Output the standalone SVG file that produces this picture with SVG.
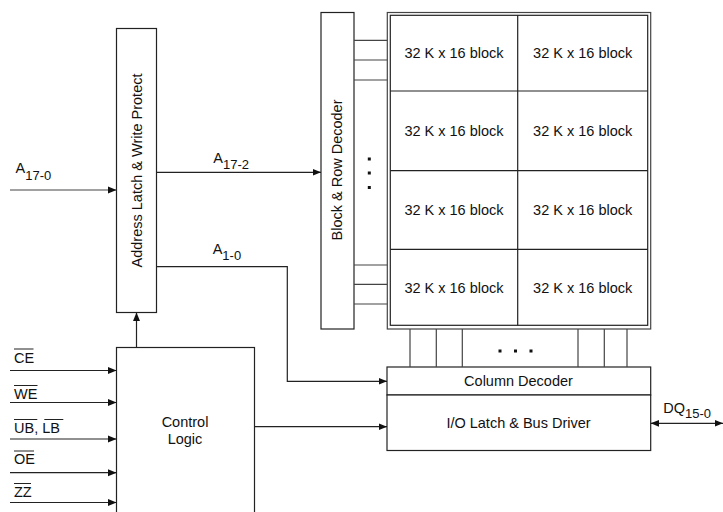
<svg xmlns="http://www.w3.org/2000/svg" width="723" height="512" viewBox="0 0 723 512">
<style>
.box{fill:#fff;stroke:#222;stroke-width:1.2}
.ln{fill:none;stroke:#222;stroke-width:1.2}
.gl{fill:none;stroke:#444;stroke-width:1.2}
.t{font-family:"Liberation Sans",Arial,sans-serif;font-size:14.5px;fill:#111}
.s{font-family:"Liberation Sans",Arial,sans-serif;font-size:13px;fill:#111}
.m{text-anchor:middle}
.dot{fill:#111}
</style>
<defs>
<marker id="ar" markerUnits="userSpaceOnUse" markerWidth="9" markerHeight="8" refX="8.5" refY="4" orient="auto-start-reverse">
<path d="M0,0.5 L8.5,4 L0,7.5 z" fill="#111"/>
</marker>
</defs>
<rect width="723" height="512" fill="#fff"/>

<g id="address-latch">
<rect class="box" x="116.5" y="28.5" width="40" height="284"/>
<text class="t m" transform="translate(142,170.5) rotate(-90)">Address Latch &amp; Write Protect</text>
</g>

<g id="block-row-decoder">
<rect class="box" x="321" y="12.5" width="33" height="316.5"/>
<text class="t m" transform="translate(342,170) rotate(-90)">Block &amp; Row Decoder</text>
<rect class="dot" x="367.8" y="157.5" width="3" height="3"/>
<rect class="dot" x="367.8" y="171.5" width="3" height="3"/>
<rect class="dot" x="367.8" y="186" width="3" height="3"/>
</g>

<g id="memory-array">
<rect fill="#fff" stroke="#444" stroke-width="1.2" x="387.3" y="12.5" width="263.4" height="316.5"/>
<rect fill="none" stroke="#222" stroke-width="1.2" x="390.3" y="15.3" width="257.4" height="310"/>
<path class="ln" d="M517.7,15.3 V325.3 M390.3,91 H647.7 M390.3,170.7 H647.7 M390.3,249.3 H647.7"/>
<text class="t m" x="454" y="58.3">32 K x 16 block</text>
<text class="t m" x="582.7" y="58.3">32 K x 16 block</text>
<text class="t m" x="454" y="136">32 K x 16 block</text>
<text class="t m" x="582.7" y="136">32 K x 16 block</text>
<text class="t m" x="454" y="215">32 K x 16 block</text>
<text class="t m" x="582.7" y="215">32 K x 16 block</text>
<text class="t m" x="454" y="292.5">32 K x 16 block</text>
<text class="t m" x="582.7" y="292.5">32 K x 16 block</text>
</g>

<g id="column-decoder">
<rect class="box" x="387" y="367" width="263.7" height="28"/>
<text class="t m" x="518.5" y="385.5">Column Decoder</text>
</g>

<g id="io-latch">
<rect class="box" x="387" y="395" width="263.7" height="55.5"/>
<text class="t m" x="518.5" y="427.7">I/O Latch &amp; Bus Driver</text>
</g>

<g id="control-logic">
<rect class="box" x="116.5" y="347.5" width="138" height="175"/>
<text class="t m" x="185" y="427.3">Control</text>
<text class="t m" x="185" y="443.5">Logic</text>
</g>

<g id="connectors">
<!-- A17-0 input -->
<line class="gl" x1="10" y1="190" x2="116.5" y2="190" marker-end="url(#ar)"/>
<!-- A17-2 -->
<line class="ln" x1="156.5" y1="172.3" x2="321" y2="172.3" marker-end="url(#ar)"/>
<!-- A1-0 -->
<path class="ln" d="M156.5,266.7 H287.3 V381.3 H387" marker-end="url(#ar)"/>
<!-- decoder to array rows -->
<path class="gl" d="M354,40.3 H387.3 M354,60 H387.3 M354,80 H387.3 M354,265 H387.3 M354,284.3 H387.3 M354,304 H387.3"/>
<!-- array to column decoder -->
<path class="gl" d="M410,329 V367 M436.3,329 V367 M462.3,329 V367 M578,329 V367 M604.3,329 V367 M627,329 V367"/>
<rect class="dot" x="498.5" y="349.5" width="3" height="3"/>
<rect class="dot" x="514" y="349.5" width="3" height="3"/>
<rect class="dot" x="529.5" y="349.5" width="3" height="3"/>
<!-- control logic up to address latch -->
<line class="ln" x1="136.5" y1="347.5" x2="136.5" y2="312.5" marker-end="url(#ar)"/>
<!-- control logic to I/O -->
<line class="ln" x1="254.5" y1="426.7" x2="387" y2="426.7" marker-end="url(#ar)"/>
<!-- control inputs -->
<line class="ln" x1="10" y1="370.5" x2="116.5" y2="370.5" marker-end="url(#ar)"/>
<line class="ln" x1="10" y1="402.5" x2="116.5" y2="402.5" marker-end="url(#ar)"/>
<line class="ln" x1="10" y1="439" x2="116.5" y2="439" marker-end="url(#ar)"/>
<line class="ln" x1="10" y1="472.7" x2="116.5" y2="472.7" marker-end="url(#ar)"/>
<line class="ln" x1="10" y1="502.5" x2="116.5" y2="502.5" marker-end="url(#ar)"/>
<!-- DQ bidirectional -->
<line class="ln" x1="650.7" y1="423.3" x2="723" y2="423.3" marker-start="url(#ar)" marker-end="url(#ar)"/>
</g>

<g id="labels">
<text class="t" x="15.5" y="173.3">A<tspan class="s" dy="6.7">17-0</tspan></text>
<text class="t" x="213.3" y="162.7">A<tspan class="s" dy="6.6">17-2</tspan></text>
<text class="t" x="212.7" y="253.5">A<tspan class="s" dy="6">1-0</tspan></text>
<text class="t" x="663.3" y="413">DQ<tspan class="s" dy="5">15-0</tspan></text>
<text class="t" x="14" y="362.7">CE</text>
<text class="t" x="14" y="398.5">WE</text>
<text class="t" x="14" y="432.7">UB, LB</text>
<text class="t" x="14" y="464.2">OE</text>
<text class="t" x="14" y="496.7">ZZ</text>
<path class="ln" stroke-width="1" d="M14,349 H33.5 M14,385.5 H37.5 M14,419.5 H37.3 M44.3,419.5 H63.3 M14,451 H34 M14,483.5 H31"/>
</g>
</svg>
